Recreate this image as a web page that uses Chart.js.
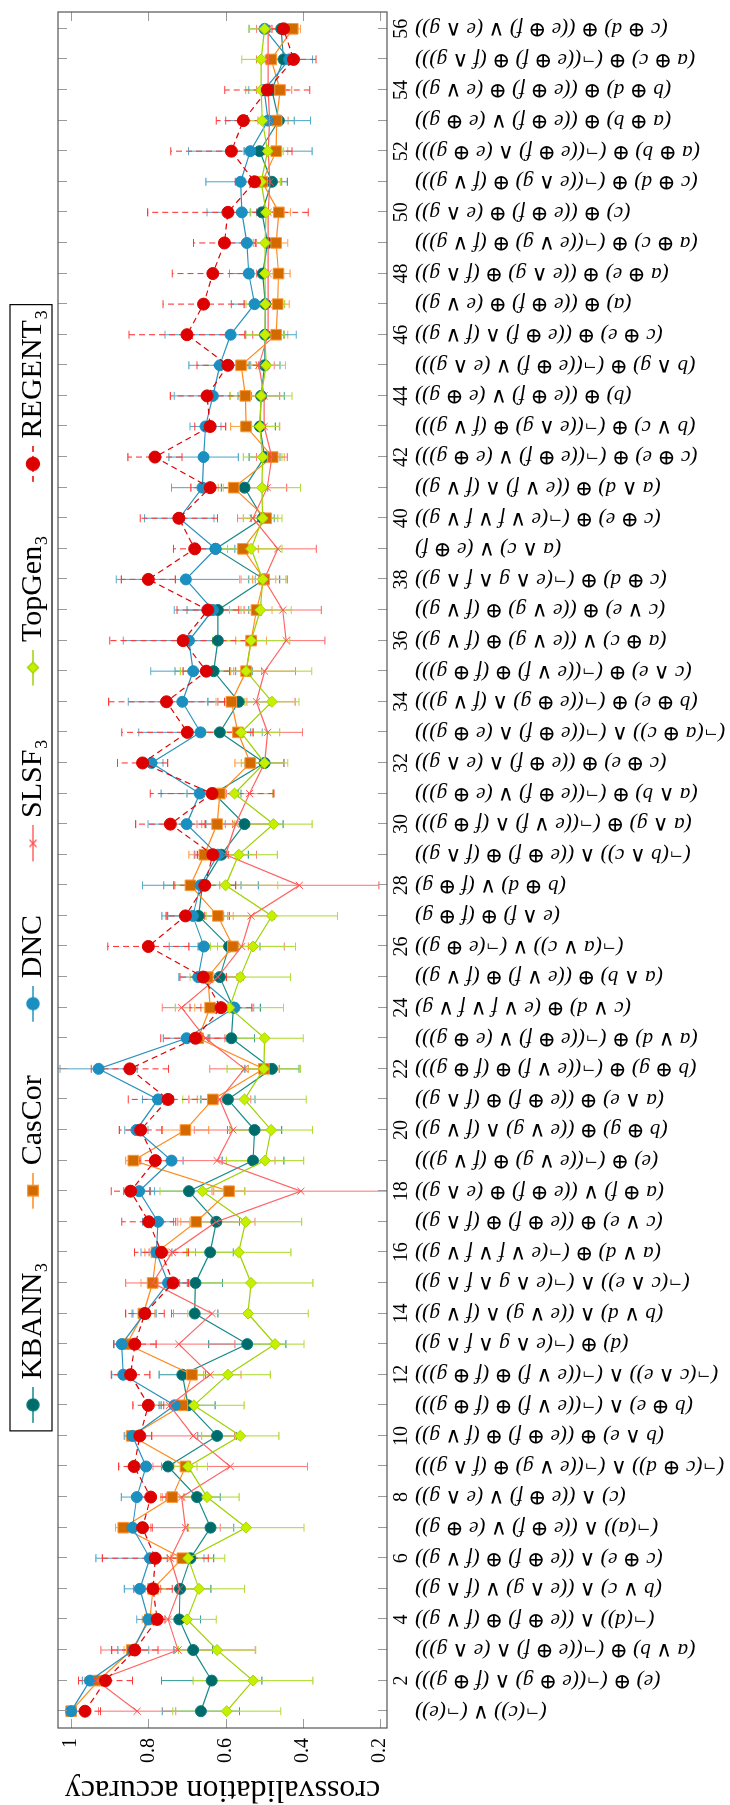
<!DOCTYPE html>
<html>
<head>
<meta charset="utf-8">
<title>crossvalidation accuracy</title>
<script src="https://cdn.jsdelivr.net/npm/chart.js@4"></script>
<style>
    html, body { margin: 0; padding: 0; background: #fff; }
    #page { position: relative; width: 730px; height: 1805px; overflow: hidden; }
    /* the chart is drawn landscape and turned a quarter turn, as in the paper */
    #rot { position: absolute; left: 0; top: 0; width: 1805px; height: 730px;
           transform-origin: 0 0; transform: translate(0, 1805px) rotate(-90deg); }
    #accChart { display: block; }
</style>
</head>
<body>
<div id="page"><div id="rot"><canvas id="accChart" width="1805" height="730"></canvas></div></div>
<script>
// Target concepts, one per category (1..56)
const formulas = [
    '(¬(c)) ∨ (¬(e))',
    '(e) ⊕ (¬((e ⊕ g) ∧ (f ⊕ g)))',
    '(a ∨ b) ⊕ (¬((e ⊕ f) ∧ (e ∧ g)))',
    '(¬(d)) ∧ ((e ⊕ f) ⊕ (f ∨ g))',
    '(b ∨ c) ∧ ((e ∧ g) ∨ (f ∧ g))',
    '(c ⊕ e) ∧ ((e ⊕ f) ⊕ (f ∨ g))',
    '(¬(a)) ∧ ((e ⊕ f) ∨ (e ⊕ g))',
    '(c) ∧ ((e ⊕ f) ∨ (e ∧ g))',
    '(¬(c ⊕ d)) ∧ (¬((e ∨ g) ⊕ (f ∧ g)))',
    '(b ∧ e) ⊕ ((e ⊕ f) ⊕ (f ∨ g))',
    '(b ⊕ e) ∧ (¬((e ∨ f) ⊕ (f ⊕ g)))',
    '(¬(c ∧ e)) ∧ (¬((e ∨ f) ⊕ (f ⊕ g)))',
    '(d) ⊕ (¬(e ∧ g ∧ f ∧ g))',
    '(b ∨ d) ∧ ((e ∨ g) ∧ (f ∨ g))',
    '(¬(c ∧ e)) ∧ (¬(e ∧ g ∧ f ∧ g))',
    '(a ∨ d) ⊕ (¬(e ∨ f ∨ f ∨ g))',
    '(c ∨ e) ⊕ ((e ⊕ f) ⊕ (f ∧ g))',
    '(a ⊕ f) ∨ ((e ⊕ f) ⊕ (e ∧ g))',
    '(e) ⊕ (¬((e ∨ g) ⊕ (f ∨ g)))',
    '(b ⊕ g) ⊕ ((e ∨ g) ∧ (f ∨ g))',
    '(a ∧ e) ⊕ ((e ⊕ f) ⊕ (f ∧ g))',
    '(b ⊕ g) ⊕ (¬((e ∨ f) ⊕ (f ⊕ g)))',
    '(a ∨ d) ⊕ (¬((e ⊕ f) ∨ (e ⊕ g)))',
    '(c ∨ d) ⊕ (e ∨ f ∨ f ∨ g)',
    '(a ∧ b) ⊕ ((e ∨ f) ⊕ (f ∨ g))',
    '(¬(a ∨ c)) ∨ (¬(e ⊕ g))',
    '(e ∧ f) ⊕ (f ⊕ g)',
    '(b ⊕ d) ∨ (f ⊕ g)',
    '(¬(b ∧ c)) ∧ ((e ⊕ f) ⊕ (f ∧ g))',
    '(a ∧ g) ⊕ (¬((e ∨ f) ∧ (f ⊕ g)))',
    '(a ∧ b) ⊕ (¬((e ⊕ f) ∨ (e ⊕ g)))',
    '(c ⊕ e) ⊕ ((e ⊕ f) ∧ (e ∧ g))',
    '(¬(a ⊕ c)) ∧ (¬((e ⊕ f) ∧ (e ⊕ g)))',
    '(b ⊕ e) ⊕ (¬((e ⊕ g) ∧ (f ∨ g)))',
    '(c ∧ e) ⊕ (¬((e ∨ f) ⊕ (f ⊕ g)))',
    '(a ⊕ c) ∨ ((e ∨ g) ⊕ (f ∨ g))',
    '(c ∨ e) ⊕ ((e ∨ g) ⊕ (f ∨ g))',
    '(c ⊕ d) ⊕ (¬(e ∧ g ∧ f ∧ g))',
    '(a ∧ c) ∨ (e ⊕ f)',
    '(c ⊕ e) ⊕ (¬(e ∨ f ∨ f ∨ g))',
    '(a ∧ d) ⊕ ((e ∨ f) ∧ (f ∨ g))',
    '(c ⊕ e) ⊕ (¬((e ⊕ f) ∨ (e ⊕ g)))',
    '(b ∨ c) ⊕ (¬((e ∧ g) ⊕ (f ∨ g)))',
    '(b) ⊕ ((e ⊕ f) ∨ (e ⊕ g))',
    '(b ∧ g) ⊕ (¬((e ⊕ f) ∨ (e ∧ g)))',
    '(c ⊕ e) ⊕ ((e ⊕ f) ∧ (f ∨ g))',
    '(a) ⊕ ((e ⊕ f) ⊕ (e ∨ g))',
    '(a ⊕ e) ⊕ ((e ∧ g) ⊕ (f ∧ g))',
    '(a ⊕ c) ⊕ (¬((e ∨ g) ⊕ (f ∨ g)))',
    '(c) ⊕ ((e ⊕ f) ⊕ (e ∧ g))',
    '(c ⊕ d) ⊕ (¬((e ∧ g) ⊕ (f ∨ g)))',
    '(a ⊕ b) ⊕ (¬((e ⊕ f) ∧ (e ⊕ g)))',
    '(a ⊕ b) ⊕ ((e ⊕ f) ∨ (e ⊕ g))',
    '(b ⊕ d) ⊕ ((e ⊕ f) ⊕ (e ∨ g))',
    '(a ⊕ c) ⊕ (¬((e ⊕ f) ⊕ (f ∧ g)))',
    '(c ⊕ d) ⊕ ((e ⊕ f) ∨ (e ∧ g))'
];

// Tick labels
const tickNumbers = [2, 4, 6, 8, 10, 12, 14, 16, 18, 20, 22, 24, 26, 28,
                     30, 32, 34, 36, 38, 40, 42, 44, 46, 48, 50, 52, 54, 56];
const yTicks = [0.2, 0.4, 0.6, 0.8, 1];

const seriesNames = ['KBANN₃', 'CasCor', 'DNC', 'SLSF₃', 'TopGen₃', 'REGENT₃'];

// Mean accuracy and its spread, per category
const kbann = [0.664, 0.636, 0.684, 0.720, 0.718, 0.691, 0.639, 0.674, 0.749, 0.622,
               0.697, 0.712, 0.544, 0.680, 0.678, 0.640, 0.624, 0.695, 0.529, 0.525,
               0.594, 0.480, 0.585, 0.580, 0.615, 0.591, 0.670, 0.660, 0.611, 0.551,
               0.630, 0.499, 0.615, 0.566, 0.631, 0.620, 0.620, 0.500, 0.626, 0.504,
               0.551, 0.499, 0.511, 0.508, 0.499, 0.498, 0.497, 0.504, 0.491, 0.506,
               0.480, 0.512, 0.462, 0.480, 0.450, 0.456];
const kbannErr = [0.10, 0.13, 0.05, 0.055, 0.08, 0.06, 0.06, 0.06, 0.05, 0.05,
                  0.07, 0.06, 0.10, 0.06, 0.07, 0.06, 0.06, 0.10, 0.08, 0.07,
                  0.07, 0.07, 0.06, 0.07, 0.06, 0.08, 0.08, 0.10, 0.07, 0.10,
                  0.07, 0.05, 0.08, 0.08, 0.10, 0.08, 0.08, 0.04, 0.06, 0.03,
                  0.06, 0.04, 0.04, 0.06, 0.04, 0.05, 0.03, 0.03, 0.03, 0.03,
                  0.04, 0.04, 0.04, 0.03, 0.03, 0.03];

const cascor = [1.000, 0.929, 0.843, 0.796, 0.788, 0.712, 0.865, 0.738, 0.704, 0.843,
                0.712, 0.687, 0.856, 0.813, 0.789, 0.779, 0.676, 0.591, 0.839, 0.704,
                0.633, 0.501, 0.671, 0.640, 0.646, 0.581, 0.620, 0.691, 0.655, 0.622,
                0.615, 0.536, 0.568, 0.585, 0.547, 0.534, 0.520, 0.500, 0.555, 0.495,
                0.579, 0.478, 0.547, 0.549, 0.560, 0.469, 0.465, 0.463, 0.469, 0.462,
                0.505, 0.469, 0.468, 0.459, 0.482, 0.426];
const cascorErr = [0.01, 0.02, 0.02, 0.02, 0.02, 0.03, 0.02, 0.03, 0.03, 0.02,
                   0.03, 0.03, 0.02, 0.03, 0.03, 0.03, 0.04, 0.04, 0.02, 0.06,
                   0.04, 0.04, 0.03, 0.04, 0.03, 0.04, 0.04, 0.04, 0.04, 0.04,
                   0.04, 0.04, 0.04, 0.04, 0.04, 0.04, 0.04, 0.03, 0.04, 0.03,
                   0.04, 0.03, 0.04, 0.04, 0.04, 0.03, 0.03, 0.03, 0.03, 0.03,
                   0.03, 0.03, 0.03, 0.03, 0.03, 0.02];

const dnc = [1.000, 0.951, 0.839, 0.800, 0.822, 0.796, 0.841, 0.830, 0.806, 0.841,
             0.732, 0.865, 0.869, 0.810, 0.749, 0.779, 0.775, 0.824, 0.740, 0.831,
             0.775, 0.929, 0.701, 0.577, 0.671, 0.656, 0.685, 0.665, 0.620, 0.701,
             0.667, 0.792, 0.665, 0.712, 0.684, 0.695, 0.633, 0.703, 0.626, 0.720,
             0.660, 0.657, 0.652, 0.633, 0.615, 0.587, 0.525, 0.540, 0.545, 0.558,
             0.561, 0.536, 0.490, 0.500, 0.435, 0.499];
const dncErr = [0.01, 0.02, 0.04, 0.03, 0.04, 0.14, 0.03, 0.04, 0.04, 0.02,
                0.04, 0.03, 0.02, 0.03, 0.05, 0.04, 0.04, 0.04, 0.03, 0.03,
                0.04, 0.10, 0.06, 0.05, 0.05, 0.09, 0.08, 0.15, 0.06, 0.10,
                0.10, 0.03, 0.16, 0.14, 0.11, 0.17, 0.10, 0.18, 0.05, 0.09,
                0.08, 0.09, 0.04, 0.10, 0.08, 0.17, 0.06, 0.05, 0.07, 0.09,
                0.09, 0.16, 0.11, 0.04, 0.06, 0.04];

const slsf = [0.829, 0.934, 0.723, 0.749, 0.719, 0.743, 0.704, 0.714, 0.588, 0.684,
              0.745, 0.640, 0.721, 0.635, 0.789, 0.738, 0.624, 0.405, 0.622, 0.581,
              0.615, 0.551, 0.652, 0.714, 0.620, 0.558, 0.534, 0.409, 0.600, 0.574,
              0.538, 0.499, 0.491, 0.520, 0.499, 0.443, 0.452, 0.500, 0.465, 0.529,
              0.492, 0.480, 0.500, 0.500, 0.514, 0.490, 0.490, 0.490, 0.490, 0.490,
              0.485, 0.490, 0.486, 0.490, 0.490, 0.490];
const slsfErr = [0.10, 0.03, 0.20, 0.03, 0.05, 0.05, 0.09, 0.05, 0.20, 0.107,
                 0.06, 0.08, 0.145, 0.10, 0.07, 0.06, 0.10, 0.23, 0.15, 0.10,
                 0.08, 0.09, 0.05, 0.05, 0.05, 0.11, 0.06, 0.206, 0.08, 0.10,
                 0.06, 0.05, 0.09, 0.10, 0.08, 0.10, 0.10, 0.06, 0.10, 0.04,
                 0.05, 0.04, 0.04, 0.04, 0.04, 0.04, 0.03, 0.03, 0.03, 0.03,
                 0.03, 0.03, 0.03, 0.03, 0.03, 0.03];

const topgen = [0.597, 0.529, 0.622, 0.700, 0.669, 0.697, 0.547, 0.648, 0.697, 0.562,
                0.682, 0.594, 0.472, 0.542, 0.534, 0.566, 0.548, 0.660, 0.498, 0.482,
                0.551, 0.501, 0.499, 0.590, 0.562, 0.529, 0.480, 0.600, 0.566, 0.476,
                0.577, 0.499, 0.560, 0.480, 0.547, 0.534, 0.510, 0.504, 0.534, 0.504,
                0.506, 0.504, 0.511, 0.508, 0.495, 0.498, 0.497, 0.498, 0.498, 0.495,
                0.508, 0.491, 0.505, 0.508, 0.508, 0.499];
const topgenErr = [0.14, 0.155, 0.10, 0.076, 0.118, 0.095, 0.15, 0.083, 0.05, 0.10,
                   0.13, 0.11, 0.075, 0.156, 0.16, 0.135, 0.145, 0.11, 0.10, 0.107,
                   0.16, 0.095, 0.10, 0.14, 0.13, 0.11, 0.17, 0.135, 0.10, 0.10,
                   0.10, 0.06, 0.10, 0.07, 0.17, 0.10, 0.08, 0.06, 0.08, 0.05,
                   0.10, 0.05, 0.05, 0.08, 0.05, 0.05, 0.05, 0.04, 0.03, 0.04,
                   0.05, 0.04, 0.04, 0.04, 0.05, 0.04];

const regent = [0.964, 0.911, 0.835, 0.777, 0.788, 0.782, 0.815, 0.794, 0.837, 0.822,
                0.800, 0.846, 0.835, 0.809, 0.736, 0.766, 0.799, 0.846, 0.782, 0.820,
                0.749, 0.848, 0.678, 0.612, 0.658, 0.800, 0.704, 0.654, 0.633, 0.743,
                0.635, 0.815, 0.699, 0.753, 0.650, 0.710, 0.646, 0.800, 0.680, 0.721,
                0.640, 0.783, 0.640, 0.648, 0.594, 0.700, 0.657, 0.633, 0.603, 0.594,
                0.525, 0.585, 0.554, 0.492, 0.424, 0.450];
const regentErr = [0.04, 0.07, 0.06, 0.02, 0.05, 0.137, 0.025, 0.04, 0.04, 0.03,
                   0.04, 0.05, 0.055, 0.05, 0.04, 0.07, 0.07, 0.05, 0.04, 0.055,
                   0.103, 0.10, 0.09, 0.08, 0.06, 0.105, 0.05, 0.08, 0.04, 0.09,
                   0.16, 0.065, 0.17, 0.15, 0.06, 0.19, 0.08, 0.07, 0.055, 0.10,
                   0.05, 0.07, 0.04, 0.095, 0.08, 0.15, 0.105, 0.105, 0.08, 0.208,
                   0.05, 0.157, 0.07, 0.11, 0.058, 0.03];

const seriesValues = [kbann, cascor, dnc, slsf, topgen, regent];
const seriesErrors = [kbannErr, cascorErr, dncErr, slsfErr, topgenErr, regentErr];

// Look of each series (pgfplots-ish colours)
const styles = [
    { line: '#178a8a', err: '#3f9f9f', fill: '#006b6b', edge: '#0a7a7a', point: 'circle', radius: 5.5, dash: [] },
    { line: '#ff8a1c', err: '#ffa452', fill: '#d36a00', edge: '#ff9633', point: 'rect', radius: 7.5, dash: [] },
    { line: '#2a92bd', err: '#5aaccd', fill: '#1a8fc0', edge: '#1a8fc0', point: 'circle', radius: 5.5, dash: [] },
    { line: '#ff6464', err: '#ff7c7c', fill: '#ff5050', edge: '#ff4f4f', point: 'crossRot', radius: 5, dash: [] },
    { line: '#9fd200', err: '#b2dc38', fill: '#c6f000', edge: '#a2d400', point: 'rectRot', radius: 5.5, dash: [] },
    { line: '#e30000', err: '#ff3a3a', fill: '#dd0000', edge: '#dd0000', point: 'circle', radius: 6, dash: [6, 4] }
];

const FONT = "'Liberation Serif', 'DejaVu Serif', serif";
const ICON_BOX = 63;     // legend symbol slot
const LEGEND_PAD = 19;

Chart.defaults.font.family = FONT;
Chart.defaults.color = '#000';

// Legend symbols: short line with the marker on it
function makeIcon(st) {
    const c = document.createElement('canvas');
    c.width = ICON_BOX + 15;
    c.height = 24;
    const g = c.getContext('2d');
    const x1 = c.width - 36, x2 = c.width, cx = (x1 + x2) / 2, cy = 12;
    g.strokeStyle = st.line;
    g.lineWidth = 1.3;
    g.setLineDash(st.dash);
    g.beginPath(); g.moveTo(x1, cy); g.lineTo(x2, cy); g.stroke();
    g.setLineDash([]);
    g.fillStyle = st.fill;
    g.strokeStyle = st.edge;
    g.beginPath();
    if (st.point === 'circle') {
        g.arc(cx, cy, st.radius + 0.5, 0, Math.PI * 2);
        g.fill(); g.stroke();
    } else if (st.point === 'rect') {
        const h = st.radius * Math.SQRT1_2;
        g.rect(cx - h, cy - h, 2 * h, 2 * h);
        g.fill(); g.stroke();
    } else if (st.point === 'rectRot') {
        const r = st.radius;
        g.moveTo(cx - r, cy); g.lineTo(cx, cy - r); g.lineTo(cx + r, cy); g.lineTo(cx, cy + r);
        g.closePath(); g.fill(); g.stroke();
    } else {
        const r = st.radius * Math.SQRT1_2;
        g.moveTo(cx - r, cy - r); g.lineTo(cx + r, cy + r);
        g.moveTo(cx + r, cy - r); g.lineTo(cx - r, cy + r);
        g.stroke();
    }
    return c;
}
const legendIcons = styles.map(makeIcon);

// Error bars, drawn under the lines
const errorBars = {
    id: 'errorBars',
    beforeDatasetsDraw(chart) {
        const { ctx, chartArea, scales: { x, y } } = chart;
        ctx.save();
        ctx.beginPath();
        ctx.rect(chartArea.left, chartArea.top, chartArea.right - chartArea.left, chartArea.bottom - chartArea.top);
        ctx.clip();
        ctx.lineWidth = 1.1;
        seriesValues.forEach((vals, k) => {
            const st = styles[k];
            ctx.strokeStyle = st.err;
            vals.forEach((v, i) => {
                const e = seriesErrors[k][i];
                const px = x.getPixelForValue(i + 1);
                const lo = y.getPixelForValue(v - e);
                const hi = y.getPixelForValue(v + e);
                ctx.setLineDash(st.dash);
                ctx.beginPath(); ctx.moveTo(px, lo); ctx.lineTo(px, hi); ctx.stroke();
                ctx.setLineDash([]);
                ctx.beginPath();
                ctx.moveTo(px - 4, lo); ctx.lineTo(px + 4, lo);
                ctx.moveTo(px - 4, hi); ctx.lineTo(px + 4, hi);
                ctx.stroke();
            });
        });
        ctx.restore();
    }
};

// Axis box with inward ticks on all four sides
const frame = {
    id: 'frame',
    afterDraw(chart) {
        const { ctx, chartArea: a, scales: { x, y } } = chart;
        ctx.save();
        ctx.strokeStyle = '#9a9a9a';
        ctx.lineWidth = 1;
        ctx.beginPath();
        for (let i = 1; i <= formulas.length; i++) {
            const px = Math.round(x.getPixelForValue(i)) + 0.5;
            ctx.moveTo(px, a.bottom); ctx.lineTo(px, a.bottom - 9);
            ctx.moveTo(px, a.top); ctx.lineTo(px, a.top + 9);
        }
        yTicks.forEach(v => {
            const py = Math.round(y.getPixelForValue(v)) + 0.5;
            ctx.moveTo(a.left, py); ctx.lineTo(a.left + 9, py);
            ctx.moveTo(a.right, py); ctx.lineTo(a.right - 9, py);
        });
        ctx.stroke();
        ctx.strokeStyle = '#555';
        ctx.lineWidth = 1.2;
        ctx.strokeRect(a.left, a.top, a.right - a.left, a.bottom - a.top);

        // legend border
        const lg = chart.legend;
        const x0 = (lg.left + LEGEND_PAD + lg.right - lg.lineWidths[0]) / 2;
        const bx1 = x0 + ICON_BOX - 28.5 - 8;
        const bx2 = x0 + lg.lineWidths[0] - LEGEND_PAD + 5;
        ctx.strokeStyle = '#000';
        ctx.lineWidth = 1.2;
        ctx.strokeRect(bx1, 10, bx2 - bx1, 42);
        ctx.restore();
    }
};

// Centre the legend over the plot rather than the canvas
const legendShift = {
    id: 'legendShift',
    afterLayout(chart) {
        chart.legend.left += 25;
        chart.legend.right += 25;
    }
};

function initChart() {
    const ctx = document.getElementById('accChart').getContext('2d');
    const chart = new Chart(ctx, {
        type: 'line',
        data: {
            datasets: seriesValues.map((vals, k) => ({
                label: seriesNames[k],
                data: vals.map((v, i) => ({ x: i + 1, y: v })),
                xAxisID: 'x',
                yAxisID: 'y',
                borderColor: styles[k].line,
                backgroundColor: styles[k].fill,
                borderWidth: 1.2,
                borderDash: styles[k].dash,
                pointStyle: styles[k].point,
                pointRadius: styles[k].radius,
                pointBackgroundColor: styles[k].fill,
                pointBorderColor: styles[k].edge,
                pointBorderWidth: 1,
                tension: 0,
                order: 5 - k
            }))
        },
        options: {
            responsive: false,
            animation: false,
            devicePixelRatio: 1,
            layout: { padding: { top: -1, right: 12, bottom: 0, left: 0 } },
            plugins: {
                tooltip: { enabled: false },
                legend: {
                    position: 'top',
                    labels: {
                        usePointStyle: true,
                        pointStyleWidth: ICON_BOX,
                        boxHeight: 20,
                        padding: LEGEND_PAD,
                        font: { size: 30 },
                        color: '#000',
                        generateLabels: () => seriesNames.map((n, k) => ({
                            text: n,
                            pointStyle: legendIcons[k],
                            datasetIndex: k,
                            fontColor: '#000',
                            fillStyle: 'transparent',
                            strokeStyle: 'transparent',
                            lineWidth: 0,
                            hidden: false
                        }))
                    }
                }
            },
            scales: {
                x: {
                    type: 'linear',
                    position: 'bottom',
                    weight: 0,
                    min: 0.45,
                    max: 56.55,
                    afterBuildTicks: s => { s.ticks = tickNumbers.map(v => ({ value: v })); },
                    afterFit: s => { s.height = 27; },
                    grid: { display: false, drawTicks: false },
                    border: { display: false },
                    ticks: { autoSkip: false, maxRotation: 0, padding: 3, font: { size: 20 }, callback: v => String(v) }
                },
                xf: {
                    type: 'linear',
                    position: 'bottom',
                    weight: 1,
                    min: 0.45,
                    max: 56.55,
                    afterBuildTicks: s => { s.ticks = formulas.map((f, i) => ({ value: i + 1 })); },
                    afterFit: s => { s.height = 316; },
                    grid: { display: false, drawTicks: false },
                    border: { display: false },
                    ticks: {
                        autoSkip: false, minRotation: 90, maxRotation: 90, padding: 1,
                        font: { size: 21.5, style: 'italic' },
                        callback: v => formulas[v - 1]
                    }
                },
                y: {
                    type: 'linear',
                    position: 'left',
                    min: 0.182,
                    max: 1.034,
                    afterBuildTicks: s => { s.ticks = yTicks.map(v => ({ value: v })); },
                    afterFit: s => { s.width = 77; },
                    grid: { display: false, drawTicks: false },
                    border: { display: false },
                    ticks: { padding: 10, font: { size: 20 }, callback: v => (v === 1 ? '1' : v.toFixed(1)) },
                    title: {
                        display: true,
                        text: 'crossvalidation accuracy',
                        font: { size: 32, lineHeight: 1 },
                        padding: { top: 0, bottom: 0 }
                    }
                }
            }
        },
        plugins: [errorBars, frame, legendShift]
    });

    // pin the top of the plot box where the reference has it
    const dy = 58 - chart.chartArea.top;
    if (Math.abs(dy) > 0.5) {
        chart.options.layout.padding.top += dy;
        chart.update('none');
    }
}

window.onload = function () {
    initChart();
};
</script>
</body>
</html>
